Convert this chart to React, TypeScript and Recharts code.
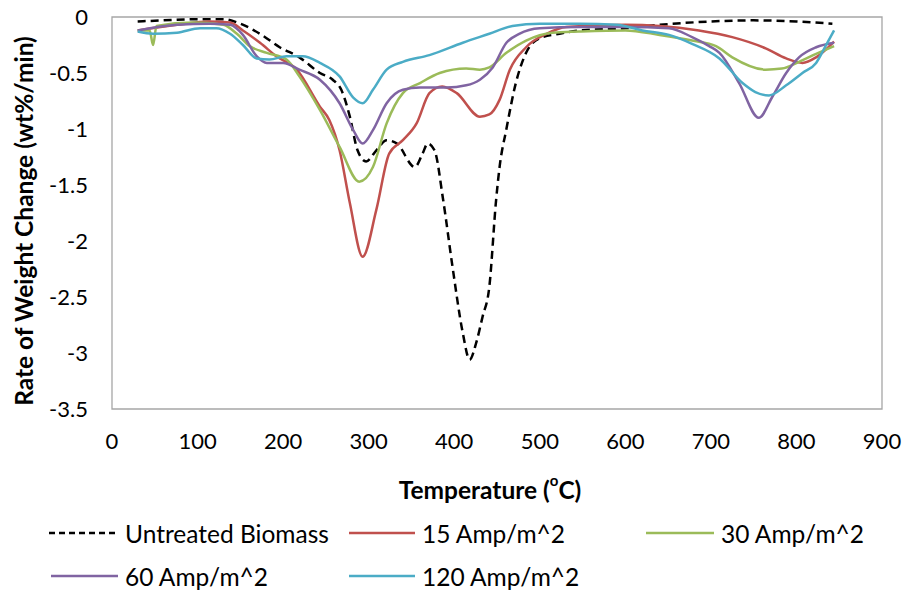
import { LineChart, Line, XAxis, YAxis, ReferenceArea, Label } from 'recharts';

// Temperatures (°C) and rates (wt%/min)
const untreatedTemp = [30, 60, 100, 130, 150, 175, 196, 219, 243, 258, 268, 278, 287, 297, 309, 321, 333, 354, 363, 369, 377, 387, 398, 410, 418, 426, 433, 441, 449, 453, 461, 472, 484, 500, 523, 546, 600, 640, 700, 750, 800, 842];
const untreatedRate = [-0.04, -0.03, -0.02, -0.02, -0.06, -0.16, -0.27, -0.36, -0.5, -0.56, -0.65, -0.89, -1.19, -1.29, -1.19, -1.1, -1.13, -1.34, -1.22, -1.13, -1.19, -1.63, -2.23, -2.82, -3.06, -2.9, -2.68, -2.41, -1.63, -1.34, -1.0, -0.59, -0.32, -0.19, -0.15, -0.12, -0.1, -0.07, -0.04, -0.03, -0.04, -0.06];

const amp15Temp = [30, 76, 114, 138, 153, 173, 192, 216, 243, 254, 266, 278, 293, 309, 324, 340, 356, 371, 386, 403, 430, 441, 453, 465, 484, 508, 531, 600, 640, 686, 725, 764, 788, 807, 823, 844];
const amp15Rate = [-0.12, -0.07, -0.04, -0.05, -0.12, -0.23, -0.35, -0.47, -0.8, -0.92, -1.19, -1.66, -2.14, -1.72, -1.22, -1.1, -0.95, -0.68, -0.62, -0.68, -0.89, -0.87, -0.74, -0.47, -0.27, -0.15, -0.09, -0.07, -0.08, -0.12, -0.18, -0.28, -0.37, -0.41, -0.36, -0.22];

const amp30Temp = [30, 44, 48, 52, 95, 130, 146, 161, 181, 204, 219, 243, 266, 289, 305, 321, 340, 360, 383, 414, 430, 441, 461, 484, 515, 546, 600, 640, 678, 706, 725, 764, 783, 803, 823, 844];
const amp30Rate = [-0.12, -0.12, -0.25, -0.08, -0.05, -0.07, -0.15, -0.26, -0.32, -0.38, -0.53, -0.83, -1.16, -1.47, -1.34, -0.95, -0.68, -0.59, -0.5, -0.46, -0.47, -0.45, -0.32, -0.21, -0.14, -0.13, -0.12, -0.16, -0.21, -0.26, -0.36, -0.47, -0.46, -0.4, -0.33, -0.26];

const amp60Temp = [30, 76, 114, 138, 153, 169, 181, 200, 219, 243, 266, 282, 293, 305, 321, 340, 360, 391, 414, 430, 445, 461, 476, 500, 546, 600, 651, 678, 698, 710, 733, 756, 772, 788, 803, 823, 844];
const amp60Rate = [-0.12, -0.07, -0.06, -0.07, -0.16, -0.35, -0.41, -0.41, -0.47, -0.56, -0.77, -1.01, -1.13, -1.01, -0.77, -0.65, -0.63, -0.63, -0.61, -0.56, -0.45, -0.23, -0.15, -0.1, -0.09, -0.09, -0.1, -0.18, -0.26, -0.32, -0.59, -0.9, -0.71, -0.5, -0.36, -0.27, -0.23];

const amp120Temp = [30, 48, 76, 103, 122, 138, 153, 169, 184, 204, 223, 243, 266, 282, 293, 305, 321, 340, 371, 410, 441, 468, 500, 546, 590, 620, 651, 678, 710, 737, 752, 768, 788, 807, 823, 834, 844];
const amp120Rate = [-0.13, -0.15, -0.14, -0.1, -0.1, -0.15, -0.25, -0.37, -0.38, -0.35, -0.35, -0.41, -0.53, -0.72, -0.77, -0.65, -0.47, -0.4, -0.34, -0.23, -0.15, -0.08, -0.06, -0.06, -0.07, -0.12, -0.16, -0.24, -0.37, -0.59, -0.67, -0.7, -0.61, -0.5, -0.41, -0.26, -0.12];

const xTicks = [0, 100, 200, 300, 400, 500, 600, 700, 800, 900];
const yTicks = [0, -0.5, -1, -1.5, -2, -2.5, -3, -3.5];

const FONT = 'Lato, "Open Sans", sans-serif';

const toPoints = (temps: number[], rates: number[]) =>
  temps.map((t, i) => ({ temp: t, rate: rates[i] }));

const SERIES = [
  { name: 'Untreated Biomass', data: toPoints(untreatedTemp, untreatedRate), color: '#000000', dash: '8 5' },
  { name: '15 Amp/m^2', data: toPoints(amp15Temp, amp15Rate), color: '#C0504D' },
  { name: '30 Amp/m^2', data: toPoints(amp30Temp, amp30Rate), color: '#9BBB59' },
  { name: '60 Amp/m^2', data: toPoints(amp60Temp, amp60Rate), color: '#8064A2' },
  { name: '120 Amp/m^2', data: toPoints(amp120Temp, amp120Rate), color: '#4BACC6' },
];

// legend slots, Excel-style grid
const LEGEND_POS = [
  { left: 49, top: 533, line: 69 },
  { left: 349, top: 533, line: 66 },
  { left: 646, top: 533, line: 68 },
  { left: 51, top: 576, line: 67 },
  { left: 349, top: 576, line: 66 },
];

function ChartLegend() {
  return (
    <>
      {SERIES.map((s, i) => {
        const pos = LEGEND_POS[i];
        return (
          <div
            key={s.name}
            style={{ position: 'absolute', left: pos.left, top: pos.top - 16, height: 32, display: 'flex', alignItems: 'center' }}
          >
            <svg width={pos.line} height={6} style={{ display: 'block' }}>
              <line
                x1={0}
                y1={3}
                x2={pos.line}
                y2={3}
                stroke={s.color}
                strokeWidth={2.5}
                strokeDasharray={s.dash ? '6 4' : undefined}
              />
            </svg>
            <span style={{ marginLeft: 7, fontFamily: FONT, fontSize: 24.5, color: '#000', whiteSpace: 'nowrap' }}>{s.name}</span>
          </div>
        );
      })}
    </>
  );
}

export default function App() {
  return (
    <div style={{ position: 'absolute', left: 0, top: 0, width: 904, height: 594, background: '#fff' }}>
      <LineChart width={904} height={594} margin={{ top: 17, right: 22, left: 0, bottom: 145 }}>
        <XAxis
          type="number"
          dataKey="temp"
          domain={[0, 900]}
          ticks={xTicks}
          allowDataOverflow
          height={40}
          axisLine={false}
          tickLine={false}
          tickSize={0}
          tickMargin={24}
          tick={{ fontSize: 22, fontFamily: FONT, fill: '#000' }}
        >
          <Label
            content={() => (
              <text x={490} y={489} textAnchor="middle" dominantBaseline="central" fontFamily={FONT} fontSize={24.5} fontWeight={700} fill="#000">
                Temperature (<tspan fontSize={15} dy={-9}>o</tspan><tspan dy={9}>C)</tspan>
              </text>
            )}
          />
        </XAxis>
        <YAxis
          type="number"
          dataKey="rate"
          domain={[-3.5, 0]}
          ticks={yTicks}
          allowDataOverflow
          width={112}
          axisLine={false}
          tickLine={false}
          tickSize={0}
          tickMargin={24}
          tick={{ fontSize: 22, fontFamily: FONT, fill: '#000' }}
        >
          <Label
            content={() => (
              <text
                x={23}
                y={221}
                transform="rotate(-90 23 221)"
                textAnchor="middle"
                dominantBaseline="central"
                fontFamily={FONT}
                fontSize={24.5}
                fontWeight={700}
                fill="#000"
              >
                Rate of Weight Change (wt%/min)
              </text>
            )}
          />
        </YAxis>
        <ReferenceArea x1={0} x2={900} y1={-3.5} y2={0} fill="none" stroke="#A6A6A6" strokeWidth={1.3} />
        {SERIES.map((s) => (
          <Line
            key={s.name}
            data={s.data}
            dataKey="rate"
            name={s.name}
            type="monotone"
            stroke={s.color}
            strokeWidth={2.5}
            strokeDasharray={s.dash}
            dot={false}
            activeDot={false}
            isAnimationActive={false}
          />
        ))}
      </LineChart>
      <ChartLegend />
    </div>
  );
}
